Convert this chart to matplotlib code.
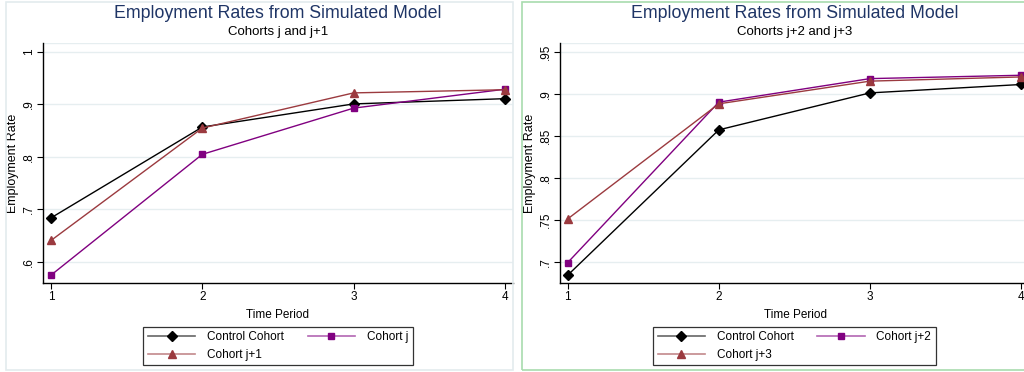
import matplotlib
matplotlib.use("Agg")
import matplotlib.pyplot as plt
from matplotlib.patches import Rectangle
from matplotlib.lines import Line2D
from matplotlib.legend_handler import HandlerTuple

plt.rcParams['font.family'] = ['Liberation Sans', 'DejaVu Sans']

# data
periods = [1, 2, 3, 4]
control = [0.684, 0.857, 0.901, 0.911]
cohort_j = [0.575, 0.805, 0.893, 0.929]
cohort_j1 = [0.641, 0.855, 0.922, 0.928]
cohort_j2 = [0.699, 0.890, 0.918, 0.922]
cohort_j3 = [0.751, 0.888, 0.915, 0.920]

left_yticks = [0.6, 0.7, 0.8, 0.9, 1.0]
left_ylabels = ['.6', '.7', '.8', '.9', '1']
right_yticks = [0.7, 0.75, 0.8, 0.85, 0.9, 0.95]
right_ylabels = ['.7', '.75', '.8', '.85', '.9', '.95']

BLACK = '#000000'
PURPLE = '#800080'
MAROON = '#9b3a3f'
GRID = '#e6eef0'
TITLE = '#1f3566'

W, H = 1024, 372
fig = plt.figure(figsize=(W / 100, H / 100), dpi=100)
fig.patch.set_facecolor('white')


def fx(px):
    return px / W


def fy(py):
    return 1 - py / H


# panel borders
fig.patches.append(Rectangle((fx(6), fy(370)), fx(507), 368 / H, transform=fig.transFigure,
                             fill=False, edgecolor='#e3ebee', linewidth=1.2))
fig.patches.append(Rectangle((fx(522), fy(370)), fx(510), 368 / H, transform=fig.transFigure,
                             fill=False, edgecolor='#a8dcae', linewidth=1.2))


def panel(x0, xlim, ylim, yticks, ylabels, series, subtitle, legend_box):
    ax = fig.add_axes([fx(x0), fy(283), fx(470), 240 / H])
    for s in ['top', 'right']:
        ax.spines[s].set_visible(False)
    for s in ['left', 'bottom']:
        ax.spines[s].set_color('black')
        ax.spines[s].set_linewidth(1.0)
    ax.set_xlim(*xlim)
    ax.set_ylim(*ylim)
    ax.set_xticks(periods)
    ax.set_xticklabels([str(p) for p in periods], fontsize=8.5)
    ax.set_yticks(yticks)
    ax.set_yticklabels(ylabels, fontsize=8.5, rotation=90, va='center')
    ax.tick_params(length=4, width=0.8, pad=2)
    ax.grid(axis='y', color=GRID, linewidth=1.0)
    ax.axhline(ylim[1], color=GRID, linewidth=1.0)
    ax.set_axisbelow(True)
    ax.set_xlabel('Time Period', fontsize=8.5, labelpad=4)
    ax.set_ylabel('Employment Rate', fontsize=9)
    ax.yaxis.set_label_coords(-24 / 470, 0.5)

    handles = []
    for vals, color, marker, ms, label in series:
        ax.plot(periods, vals, color=color, linewidth=1.0, marker=marker,
                markersize=ms, markerfacecolor=color, markeredgecolor=color,
                clip_on=False, zorder=3)
        line = Line2D([], [], color=color, linewidth=1.2, alpha=0.6)
        mk = Line2D([], [], color=color, linestyle='none', marker=marker, markersize=ms)
        handles.append(((line, mk), label))

    cx = fx(x0 + 235)
    fig.text(cx, fy(13), 'Employment Rates from Simulated Model', ha='center', va='center',
             fontsize=12.8, color=TITLE)
    fig.text(cx, fy(32), subtitle, ha='center', va='center', fontsize=9.5, color='black')

    order = [handles[0], handles[2], handles[1]]
    lx0, ly0, lx1, ly1 = legend_box
    leg = fig.legend([h for h, _ in order], [l for _, l in order], ncol=2,
                     handler_map={tuple: HandlerTuple(ndivide=1, pad=0)},
                     loc='center', bbox_to_anchor=(fx((lx0 + lx1) / 2), fy((ly0 + ly1) / 2)),
                     fontsize=8.5, frameon=True, fancybox=False, edgecolor='black',
                     handlelength=4.0, columnspacing=2.0, handletextpad=1.0,
                     labelspacing=0.45, borderpad=0.4)
    leg.get_frame().set_linewidth(0.9)
    return ax


panel(43, (0.947, 0.947 + 470 / 151.3), (0.56, 1.017), left_yticks, left_ylabels,
      [(control, BLACK, 'D', 5.5, 'Control Cohort'),
       (cohort_j, PURPLE, 's', 5, 'Cohort j'),
       (cohort_j1, MAROON, '^', 6, 'Cohort j+1')],
      'Cohorts j and j+1', (142, 324, 414, 368))

panel(560, (0.949, 0.949 + 470 / 151.1), (0.6747, 0.9604), right_yticks, right_ylabels,
      [(control, BLACK, 'D', 5.5, 'Control Cohort'),
       (cohort_j2, PURPLE, 's', 5, 'Cohort j+2'),
       (cohort_j3, MAROON, '^', 6, 'Cohort j+3')],
      'Cohorts j+2 and j+3', (651, 324, 938, 368))

fig.savefig('out.png', dpi=100, facecolor='white')
